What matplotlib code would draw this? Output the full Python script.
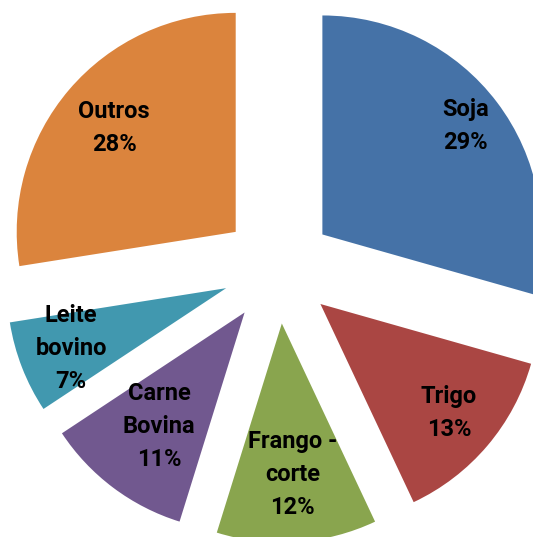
import numpy as np
import matplotlib
matplotlib.use("Agg")
import matplotlib.pyplot as plt

categories = ["Soja", "Trigo", "Frango -\ncorte", "Carne\nBovina", "Leite\nbovino", "Outros"]
values = [29.4, 13.6, 11.8, 10.9, 6.8, 27.5]
pct_labels = ["29%", "13%", "12%", "11%", "7%", "28%"]
colors = ["#4572A7", "#AA4643", "#89A54E", "#71588F", "#4198AF", "#DB843D"]
label_dist = [0.82, 0.77, 0.69, 0.65, 0.76, 0.73]

fig = plt.figure(figsize=(5.33, 5.37), dpi=100)
ax = fig.add_axes([0, 0, 1, 1])
explode = [0.254] * len(values)
wedges, _ = ax.pie(values, colors=colors, startangle=90, counterclock=False,
                   explode=explode, radius=1.0,
                   wedgeprops=dict(linewidth=0))
for w, cat, pl, d in zip(wedges, categories, pct_labels, label_dist):
    ang = np.deg2rad((w.theta1 + w.theta2) / 2)
    cx, cy = w.center
    ax.text(cx + d * np.cos(ang), cy + d * np.sin(ang),
            f"{cat}\n{pl}",
            ha="center", va="center", fontsize=17, fontweight="bold",
            family="Roboto", linespacing=1.55, color="black")

ax.set_xlim(-278 / 219, (533 - 278) / 219)
ax.set_ylim(-(537 - 268) / 219, 268 / 219)
ax.set_aspect("equal")
ax.axis("off")
fig.savefig("out.png", dpi=100)
